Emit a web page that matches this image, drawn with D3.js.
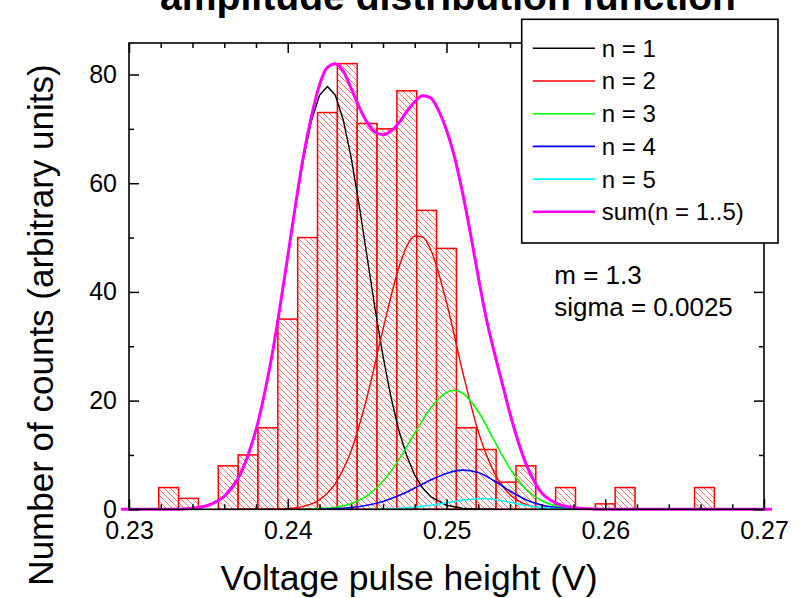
<!DOCTYPE html>
<html><head><meta charset="utf-8">
<script src="https://cdn.jsdelivr.net/npm/d3@7"></script>
<style>
body{margin:0;background:#fff;}
svg text{font-family:"Liberation Sans",Arial,Helvetica,sans-serif;fill:#000;}
</style></head><body>
<svg id="chart" width="804" height="598"></svg>
<script>
// ---------- data ----------
const binCenters = [0.2325,0.23375,0.235,0.23625,0.2375,0.23875,0.24,0.24125,0.2425,0.24375,0.245,0.24625,0.2475,0.24875,0.25,0.25125,0.2525,0.25375,0.255,0.25625,0.2575,0.25875,0.26,0.26125,0.2625,0.26375,0.265,0.26625];
const binWidth = 0.00125;
const counts = [4,2,0,8,10,15,35,50,73,82,71,70,77,55,48,15,11,5,8,0,4,0,1,4,0,0,0,4];

const curveN1 = [[0.233,0],[0.234,0.2],[0.235,0.74],[0.236,2.35],[0.237,6.3],[0.2375,9.8],[0.238,14.5],[0.2385,20.7],[0.239,28.2],[0.2395,36.9],[0.24,46.4],[0.2405,55.9],[0.241,64.6],[0.2415,71.6],[0.242,76.2],[0.2425,77.8],[0.243,76.2],[0.2435,71.6],[0.244,64.6],[0.2445,55.9],[0.245,46.4],[0.2455,36.9],[0.246,28.2],[0.2465,20.7],[0.247,14.5],[0.2475,9.8],[0.248,6.3],[0.2485,3.9],[0.249,2.35],[0.25,0.74],[0.251,0.2],[0.252,0.04],[0.253,0]];
const curveN2 = [[0.237,0],[0.239,0.05],[0.24,0.14],[0.241,0.55],[0.242,1.76],[0.243,4.77],[0.244,10.8],[0.245,20.7],[0.246,33.1],[0.247,44.5],[0.2475,48.4],[0.248,50.3],[0.2485,50.1],[0.249,47.8],[0.25,38.1],[0.251,25.5],[0.252,14.3],[0.253,6.8],[0.254,2.68],[0.255,0.89],[0.256,0.25],[0.257,0.06],[0.258,0]];
const curveN3 = [[0.241,0],[0.242,0.13],[0.243,0.39],[0.244,1.07],[0.245,2.52],[0.246,5.16],[0.247,9.13],[0.248,14.0],[0.249,18.6],[0.25,21.5],[0.2505,21.9],[0.251,21.4],[0.252,18.0],[0.253,12.7],[0.254,7.5],[0.255,3.74],[0.256,1.56],[0.257,0.55],[0.258,0.16],[0.259,0.04],[0.26,0]];
const curveN4 = [[0.242,0],[0.243,0.13],[0.244,0.33],[0.245,0.73],[0.246,1.44],[0.247,2.52],[0.248,3.91],[0.249,5.4],[0.25,6.6],[0.251,7.2],[0.252,6.77],[0.253,5.25],[0.254,3.36],[0.255,1.77],[0.256,0.77],[0.257,0.27],[0.258,0.08],[0.259,0]];
const curveN5 = [[0.245,0],[0.246,0.05],[0.247,0.15],[0.248,0.4],[0.249,0.75],[0.25,1.2],[0.251,1.65],[0.252,1.95],[0.2525,2.0],[0.253,1.8],[0.254,1.3],[0.255,0.7],[0.256,0.3],[0.257,0.1],[0.258,0]];
const curveSum = [[0.2295,0],[0.233,0],[0.234,0.2],[0.235,0.75],[0.236,2.4],[0.237,6.4],[0.2375,10.0],[0.238,14.6],[0.2385,20.8],[0.239,28.2],[0.2395,37.0],[0.24,46.5],[0.2405,56.2],[0.241,65.2],[0.2415,72.4],[0.242,78.1],[0.2425,81.3],[0.243,82.0],[0.2435,80.6],[0.244,77.4],[0.2445,74.0],[0.245,71.2],[0.2455,69.4],[0.246,68.9],[0.2465,69.6],[0.247,71.1],[0.2475,73.2],[0.248,75.0],[0.2485,76.1],[0.249,75.7],[0.2495,73.4],[0.25,69.8],[0.2505,64.9],[0.251,58.4],[0.2515,50.9],[0.252,42.8],[0.2525,35.2],[0.253,29.0],[0.2535,23.3],[0.254,17.6],[0.2545,12.6],[0.255,8.4],[0.2555,5.3],[0.256,3.0],[0.2565,1.8],[0.257,1.0],[0.258,0.35],[0.259,0.1],[0.26,0],[0.2705,0]];

const seriesNames = ["n = 1","n = 2","n = 3","n = 4","n = 5","sum(n = 1..5)"];
const seriesColors = ["#000000","#ff0000","#00ff00","#0000ff","#00ffff","#ff00ff"];
const xTicks = [0.23,0.24,0.25,0.26,0.27];
const xMinorTicks = [0.232,0.234,0.236,0.238,0.242,0.244,0.246,0.248,0.252,0.254,0.256,0.258,0.262,0.264,0.266,0.268];
const yTicks = [0,20,40,60,80];
const yMinorTicks = [10,30,50,70];
const xDomain = [0.23,0.27];
const yDomain = [0,85.8];
const titleText = "amplitude distribution function";
const xLabel = "Voltage pulse height (V)";
const yLabel = "Number of counts (arbitrary units)";
const annotations = ["m = 1.3","sigma = 0.0025"];

// ---------- layout ----------
const L = 129, R = 764, T = 43, B = 509.3;
const svg = d3.select("#chart");
const x = d3.scaleLinear().domain(xDomain).range([L,R]);
const y = d3.scaleLinear().domain(yDomain).range([B,T]);

// hatch pattern
const defs = svg.append("defs");
const pat = defs.append("pattern").attr("id","hatch").attr("patternUnits","userSpaceOnUse")
  .attr("width",6).attr("height",6);
pat.append("rect").attr("width",6).attr("height",6).attr("fill","#fff");
pat.append("path").attr("d","M-1,-1L7,7M-1,5L1,7M5,-1L7,1")
  .attr("stroke","#ff5a5a").attr("stroke-width",0.85).attr("fill","none");

// bars
const bars = binCenters.map((c,i)=>({c, v:counts[i]})).filter(d=>d.v>0);
svg.append("g").selectAll("rect").data(bars).join("rect")
  .attr("x",d=>x(d.c-binWidth/2))
  .attr("width",d=>x(d.c+binWidth/2)-x(d.c-binWidth/2))
  .attr("y",d=>y(d.v))
  .attr("height",d=>y(0)-y(d.v))
  .attr("fill","url(#hatch)")
  .attr("stroke","#ff0000").attr("stroke-width",1.5);

// curves
const curves = [curveN1,curveN2,curveN3,curveN4,curveN5,curveSum];
const widths = [1.4,1.4,1.6,1.6,1.6,3];
curves.forEach((cd,i)=>{
  const line = d3.line().x(d=>x(d[0])).y(d=>y(d[1]))
    .curve(i===0 ? d3.curveLinear : d3.curveMonotoneX);
  svg.append("path").datum(cd).attr("d",line)
    .attr("fill","none").attr("stroke",seriesColors[i]).attr("stroke-width",widths[i])
    .attr("stroke-linejoin","round");
});

// axes
function styleAxis(g, labels){
  g.select(".domain").remove();
  g.selectAll(".tick line").attr("stroke","#000").attr("stroke-width",1.5);
  g.selectAll(".tick text").attr("font-size",25).attr("fill","#000")
    .style("font-family",'"Liberation Sans",Arial,sans-serif');
  if(!labels) g.selectAll(".tick text").remove();
}
const fmtX = d3.format(".2f");
svg.append("g").attr("transform",`translate(0,${B})`)
  .call(d3.axisBottom(x).tickValues(xTicks).tickSize(-10).tickPadding(12).tickFormat(fmtX))
  .call(g=>styleAxis(g,true));
svg.append("g").attr("transform",`translate(0,${B})`)
  .call(d3.axisBottom(x).tickValues(xMinorTicks).tickSize(-5).tickFormat(""))
  .call(g=>styleAxis(g,false));
svg.append("g").attr("transform",`translate(0,${T})`)
  .call(d3.axisTop(x).tickValues(xTicks).tickSize(-10).tickFormat(""))
  .call(g=>styleAxis(g,false));
svg.append("g").attr("transform",`translate(0,${T})`)
  .call(d3.axisTop(x).tickValues(xMinorTicks).tickSize(-5).tickFormat(""))
  .call(g=>styleAxis(g,false));
svg.append("g").attr("transform",`translate(${L},0)`)
  .call(d3.axisLeft(y).tickValues(yTicks).tickSize(-10).tickPadding(12).tickFormat(d3.format("d")))
  .call(g=>styleAxis(g,true));
svg.append("g").attr("transform",`translate(${L},0)`)
  .call(d3.axisLeft(y).tickValues(yMinorTicks).tickSize(-5).tickFormat(""))
  .call(g=>styleAxis(g,false));
svg.append("g").attr("transform",`translate(${R},0)`)
  .call(d3.axisRight(y).tickValues(yTicks).tickSize(-10).tickFormat(""))
  .call(g=>styleAxis(g,false));
svg.append("g").attr("transform",`translate(${R},0)`)
  .call(d3.axisRight(y).tickValues(yMinorTicks).tickSize(-5).tickFormat(""))
  .call(g=>styleAxis(g,false));

// frame
svg.append("rect").attr("x",L).attr("y",T).attr("width",R-L).attr("height",B-T)
  .attr("fill","none").attr("stroke","#000").attr("stroke-width",1.6);

// title
svg.append("text").attr("x",448).attr("y",10).attr("text-anchor","middle")
  .attr("font-size",38).attr("font-weight","bold")
  .attr("textLength",576).attr("lengthAdjust","spacingAndGlyphs").text(titleText);

// axis labels
svg.append("text").attr("x",409).attr("y",590).attr("text-anchor","middle")
  .attr("font-size",35.5).text(xLabel);
svg.append("text").attr("transform","translate(53,325) rotate(-90)")
  .attr("text-anchor","middle").attr("font-size",35).text(yLabel);

// legend
const lg = svg.append("g");
lg.append("rect").attr("x",521.7).attr("y",19.3).attr("width",256.3).attr("height",223.7)
  .attr("fill","#fff").attr("stroke","#000").attr("stroke-width",1.6);
seriesNames.forEach((nm,i)=>{
  const yy = 48.3 + i*32.7;
  lg.append("line").attr("x1",532.7).attr("x2",595).attr("y1",yy).attr("y2",yy)
    .attr("stroke",seriesColors[i]).attr("stroke-width",i===5?2.5:1.6);
  lg.append("text").attr("x",601.7).attr("y",56.7+i*32.7).attr("font-size",24).text(nm);
});

// annotations
annotations.forEach((t,i)=>{
  svg.append("text").attr("x",554.3).attr("y",284.3+i*31.7).attr("font-size",26).text(t);
});
</script>
</body></html>
